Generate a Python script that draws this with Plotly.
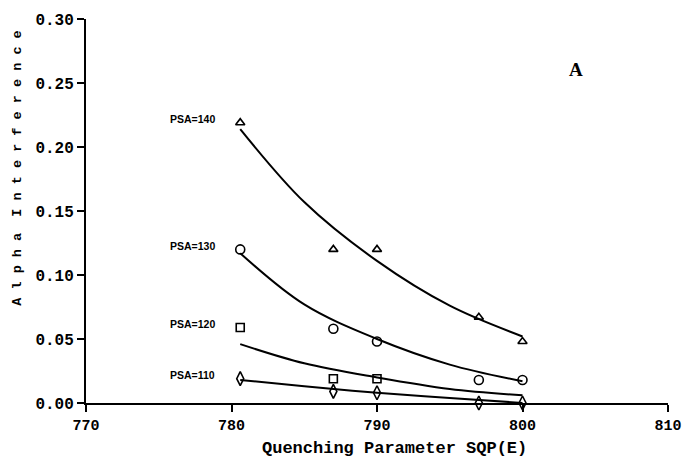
import plotly.graph_objects as go

# measured points
sqp = [780.6, 787, 790, 797, 800]
psa140 = [0.219, 0.120, 0.120, 0.067, 0.048]
psa130 = [0.120, 0.058, 0.048, 0.018, 0.018]
sqp120 = [780.6, 787, 790]
psa120 = [0.059, 0.019, 0.019]
psa110 = [0.019, 0.009, 0.008, 0.0, 0.0]

# fitted curves
fit_x = [780.6, 785, 790, 795, 800]
fit140 = [0.214, 0.157, 0.111, 0.076, 0.052]
fit130 = [0.117, 0.077, 0.050, 0.030, 0.017]
fit120 = [0.046, 0.031, 0.020, 0.011, 0.006]
fit110 = [0.018, 0.013, 0.008, 0.004, 0.000]

labels = ["PSA=140", "PSA=130", "PSA=120", "PSA=110"]
label_y = [0.222, 0.123, 0.062, 0.022]

x_ticks = [770, 780, 790, 800, 810]
y_ticks = [0.0, 0.05, 0.10, 0.15, 0.20, 0.25, 0.30]

fig = go.Figure()
for fy in [fit140, fit130, fit120, fit110]:
    fig.add_trace(go.Scatter(x=fit_x, y=fy, mode="lines", line=dict(color="black", width=2, shape="spline", smoothing=1.0),
                             showlegend=False, hoverinfo="skip", cliponaxis=False))

def mk(symbol, size):
    return dict(symbol=symbol, size=size, color="black", line=dict(color="black", width=1.6))

fig.add_trace(go.Scatter(x=sqp, y=psa140, mode="markers", marker=mk("triangle-up-open", 8), showlegend=False, cliponaxis=False))
fig.add_trace(go.Scatter(x=sqp, y=psa130, mode="markers", marker=mk("circle-open", 9), showlegend=False, cliponaxis=False))
fig.add_trace(go.Scatter(x=sqp120, y=psa120, mode="markers", marker=mk("square-open", 8), showlegend=False, cliponaxis=False))
fig.add_trace(go.Scatter(x=sqp, y=psa110, mode="markers", marker=mk("diamond-tall-open", 10), showlegend=False, cliponaxis=False))

mono = "Liberation Mono, Courier New, monospace"
for t, yv in zip(labels, label_y):
    fig.add_annotation(x=777.3, y=yv, text=t, showarrow=False, xanchor="center", yanchor="middle",
                       font=dict(family="Liberation Sans, Arial", size=10.5, color="black", weight="bold"))

fig.add_annotation(x=0.857, y=0.9, xref="paper", yref="paper", text="A", showarrow=False,
                   font=dict(family="Liberation Serif, Times New Roman", size=19, color="black", weight="bold"))

fig.add_annotation(x=0, y=0.61, xref="paper", yref="paper", xshift=-68, text="A l p h a  I n t e r f e r e n c e",
                   textangle=-90, showarrow=False, xanchor="center", yanchor="middle",
                   font=dict(family=mono, size=13.5, color="black", weight="bold"))
fig.add_annotation(x=0.53, y=0, xref="paper", yref="paper", yshift=-45, text="Quenching Parameter SQP(E)",
                   showarrow=False, xanchor="center", yanchor="middle",
                   font=dict(family=mono, size=17, color="black", weight="bold"))

fig.update_xaxes(range=[770, 810], tickvals=x_ticks, ticktext=[str(v) for v in x_ticks],
                 showgrid=False, zeroline=False, showline=True, linecolor="black", linewidth=2,
                 ticks="outside", ticklen=7, tickwidth=2, tickcolor="black",
                 tickfont=dict(family=mono, size=15, color="black", weight="bold"))
fig.update_yaxes(range=[0, 0.30], tickvals=y_ticks, ticktext=[f"{v:.2f}" for v in y_ticks],
                 showgrid=False, zeroline=False, showline=True, linecolor="black", linewidth=2,
                 ticks="outside", ticklen=7, tickwidth=2, tickcolor="black",
                 tickfont=dict(family=mono, size=16, color="black", weight="bold"))

fig.update_layout(width=694, height=459, margin=dict(l=86, r=16, t=16, b=56),
                  plot_bgcolor="white", paper_bgcolor="white")
fig.write_html("out.html")
